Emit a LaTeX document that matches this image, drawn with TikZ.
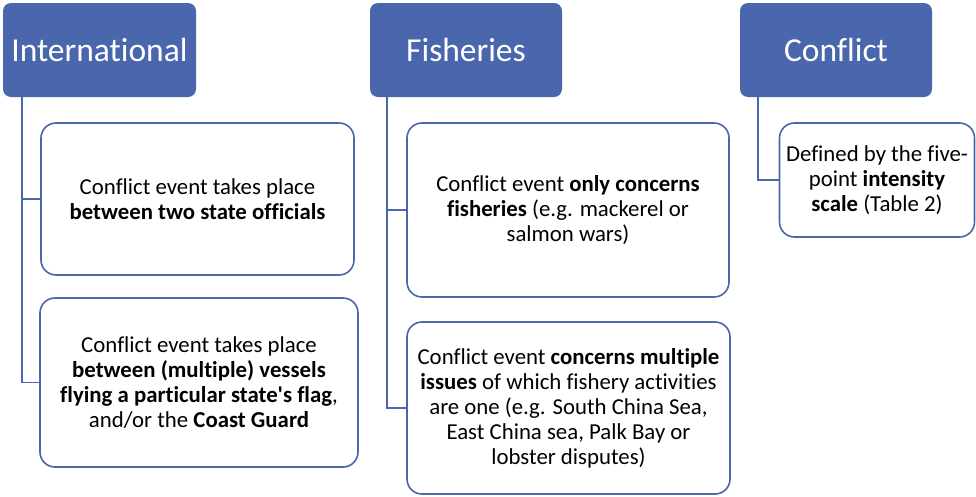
\documentclass[tikz,border=0pt]{standalone}
\usepackage{fontspec}
\setmainfont{Carlito}[Ligatures={NoCommon}]
\definecolor{hblue}{HTML}{4A66AC}
\begin{document}
\begin{tikzpicture}[x=1pt,y=-1pt,
  header/.style={draw=none,fill=hblue,rounded corners=8pt,inner sep=0pt,text=white,
    font=\fontsize{33.5}{40}\selectfont},
  item/.style={draw=hblue,line width=1.6pt,fill=white,rounded corners=15pt,inner sep=0pt,
    align=center,font=\fontsize{22.8}{25}\selectfont},
  conn/.style={draw=hblue,line width=1.8pt}]
\useasboundingbox (0,0) rectangle (976,496);
\node[header,minimum width=193pt,minimum height=94pt] (intl) at (99.5,50) {International};
\node[header,minimum width=192pt,minimum height=94pt] (fish) at (466,50) {Fisheries};
\node[header,minimum width=192pt,minimum height=94pt] (conf) at (836,50) {Conflict};
\node[item,minimum width=313pt,minimum height=152pt] (b1) at (197.5,199)
  {Conflict event takes place\\\textbf{between two state officials}};
\node[item,minimum width=318pt,minimum height=169pt] (b2) at (199,382.5)
  {Conflict event takes place\\\textbf{between (multiple) vessels}\\\textbf{flying a particular state\textquotesingle s flag},\\and/or the \textbf{Coast Guard}};
\node[item,minimum width=322pt,minimum height=174pt] (b3) at (568,210)
  {Conflict event \textbf{only concerns}\\\textbf{fisheries} (e.g. mackerel or\\salmon wars)};
\node[item,minimum width=323pt,minimum height=172pt] (b4) at (568.5,408)
  {Conflict event \textbf{concerns multiple}\\\textbf{issues} of which fishery activities\\are one (e.g. South China Sea,\\East China sea, Palk Bay or\\lobster disputes)};
\node[item,minimum width=195pt,minimum height=114pt] (b5) at (877,180)
  {Defined by the five-\\point \textbf{intensity}\\\textbf{scale} (Table 2)};
\draw[conn] ([xshift=19pt]intl.south west) |- (b1.west);
\draw[conn] ([xshift=19pt]intl.south west) |- (b2.west);
\draw[conn] ([xshift=17pt]fish.south west) |- (b3.west);
\draw[conn] ([xshift=17pt]fish.south west) |- (b4.west);
\draw[conn] ([xshift=18pt]conf.south west) |- (b5.west);
\end{tikzpicture}
\end{document}
